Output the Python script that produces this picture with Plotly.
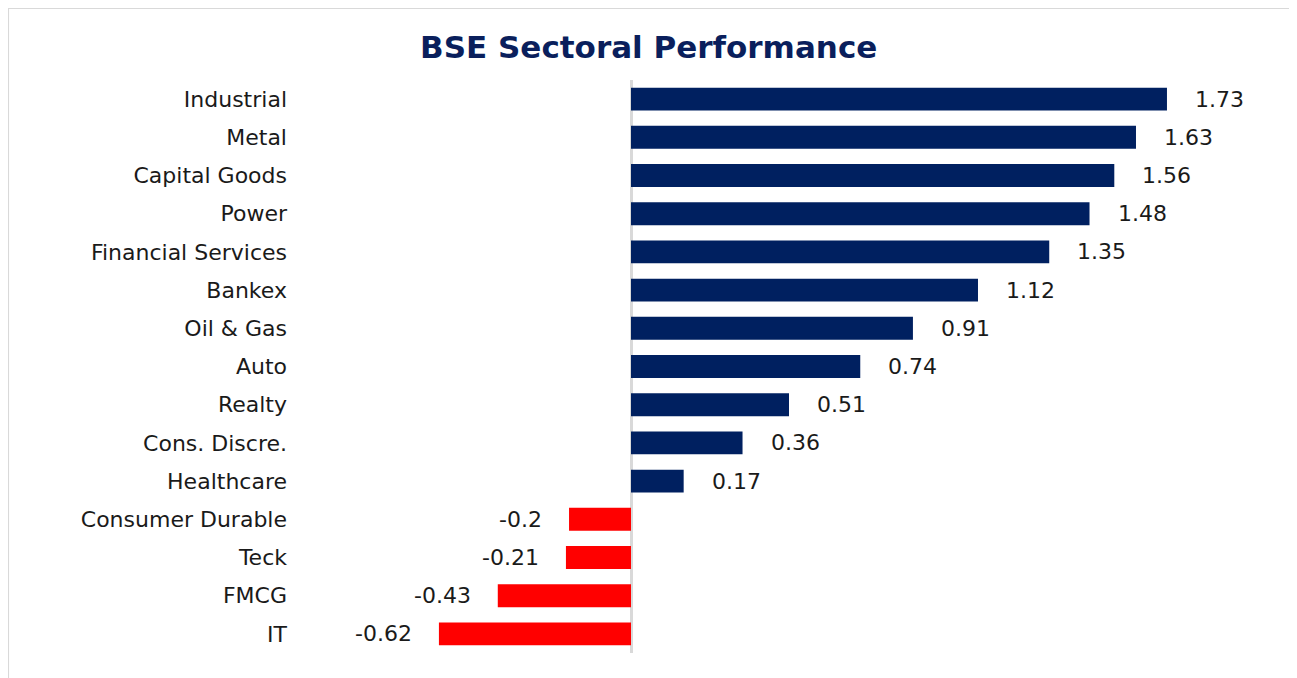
import plotly.graph_objects as go

sectors = ["Industrial", "Metal", "Capital Goods", "Power", "Financial Services",
           "Bankex", "Oil & Gas", "Auto", "Realty", "Cons. Discre.", "Healthcare",
           "Consumer Durable", "Teck", "FMCG", "IT"]
change = [1.73, 1.63, 1.56, 1.48, 1.35, 1.12, 0.91, 0.74, 0.51, 0.36, 0.17,
          -0.2, -0.21, -0.43, -0.62]

NAVY = "#002060"
RED = "#FF0000"
FONT = "DejaVu Sans"
colors = [NAVY if v >= 0 else RED for v in change]

fig = go.Figure(go.Bar(
    x=change, y=sectors, orientation="h",
    marker=dict(color=colors, line=dict(width=0)),
    width=0.6, hoverinfo="x+y",
))

# value labels, pushed away from the bar ends
for s, v in zip(sectors, change):
    fig.add_annotation(
        x=v, y=s, text=str(v), showarrow=False,
        xanchor="left" if v >= 0 else "right",
        xshift=26 if v >= 0 else -25,
        font=dict(family=FONT, size=22, color="#1a1a1a"),
    )

# outer frame of the chart
fig.add_shape(type="rect", xref="paper", yref="paper",
              x0=-0.3073, x1=1.0432, y0=-0.07, y1=1.1257,
              line=dict(color="#d9d9d9", width=2), layer="below")

fig.update_layout(
    width=1297, height=678,
    margin=dict(l=292, r=55, t=72, b=33),
    paper_bgcolor="white", plot_bgcolor="white",
    title=dict(text="<b>BSE Sectoral Performance</b>", x=0.494, xanchor="center",
               y=0.9425, yanchor="middle",
               font=dict(family=FONT, size=31, color="#0A1F5C")),
    font=dict(family=FONT, size=22, color="#1a1a1a"),
    showlegend=False,
    bargap=0.4,
)
fig.update_xaxes(range=[-1.0684, 1.998], showgrid=False, showticklabels=False,
                 zeroline=True, zerolinecolor="#d9d9d9", zerolinewidth=2.5,
                 fixedrange=True)
fig.update_yaxes(range=[14.5, -0.5], showgrid=False, ticks="",
                 ticklabelstandoff=12, fixedrange=True)

fig.write_html("out.html")
